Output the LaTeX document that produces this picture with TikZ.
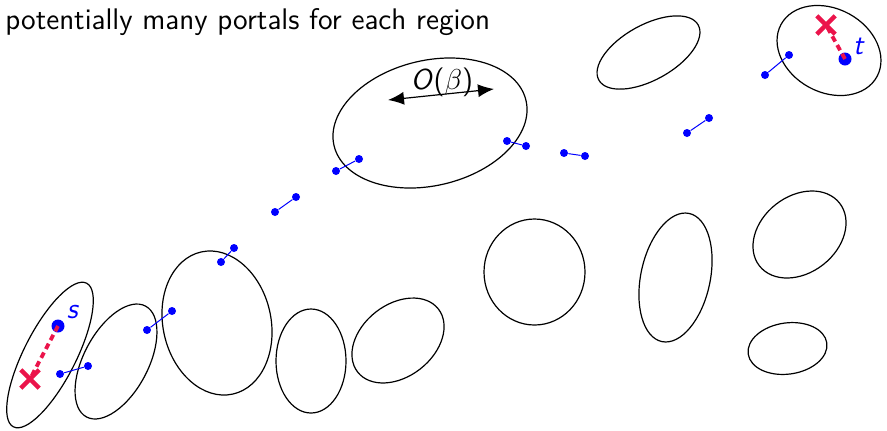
\documentclass[tikz,border=0pt]{standalone}
\usepackage{amsmath,amssymb}
\usepackage{xcolor}
\usepackage{tikz}
\usetikzlibrary{arrows.meta,positioning,shapes.misc}
\definecolor{crossred}{RGB}{235,20,75}

\begin{document}
\begin{tikzpicture}[x=0.5pt, y=-0.5pt, font=\Large\sffamily,
  region/.style={black, line width=0.6pt},
  portal/.style={circle, fill=blue, inner sep=0pt, minimum size=4pt},
  link/.style={blue, line width=0.5pt},
  term/.style={circle, fill=blue, inner sep=0pt, minimum size=6.5pt},
  miss/.style={cross out, draw=crossred, line width=2.2pt, inner sep=0pt, minimum size=7pt},
  jump/.style={crossred, line width=1.9pt, dash pattern=on 3pt off 2pt}]
  \useasboundingbox (0,0) rectangle (887,430);
  % title
  \node[anchor=base west, inner sep=0pt, font=\fontsize{14.9}{18}\selectfont\sffamily] (title) at (5,29) {potentially many portals for each region};
  % regions (lower chain)
  \draw[region, rotate around={63:(50,355)}] (50,355) ellipse [x radius=80.6, y radius=26];
  \draw[region, rotate around={62:(116,361.5)}] (116,361.5) ellipse [x radius=62.8, y radius=32.2];
  \draw[region, rotate around={12.5:(217,323)}] (217,323) ellipse [x radius=54, y radius=72.8];
  \draw[region] (311,361) ellipse [x radius=35, y radius=52];
  \draw[region, rotate around={38:(398,340.5)}] (398,340.5) ellipse [x radius=51.2, y radius=36.1];
  \draw[region] (534.5,272) ellipse [x radius=50.5, y radius=53];
  \draw[region, rotate around={78:(675.5,277.5)}] (675.5,277.5) ellipse [x radius=65.5, y radius=34.7];
  \draw[region, rotate around={38:(799.5,234.5)}] (799.5,234.5) ellipse [x radius=50.9, y radius=38.3];
  \draw[region, rotate around={8:(787.5,348.5)}] (787.5,348.5) ellipse [x radius=39.7, y radius=25.6];
  % regions (top)
  \draw[region, rotate around={29:(648.5,52.5)}] (648.5,52.5) ellipse [x radius=56.8, y radius=27.6];
  \draw[region, rotate around={-28.5:(829,50.5)}] (829,50.5) ellipse [x radius=54.6, y radius=41.8];
  \draw[region, rotate around={13.3:(430,123)}] (430,123) ellipse [x radius=98.6, y radius=62.6];
  % portals
  \node[portal] (p1a) at (60,374) {};
  \node[portal] (p1b) at (88,366) {};
  \node[portal] (p2a) at (147,330) {};
  \node[portal] (p2b) at (172,311) {};
  \node[portal] (p3a) at (221,262) {};
  \node[portal] (p3b) at (234,248) {};
  \node[portal] (p4a) at (275,212) {};
  \node[portal] (p4b) at (296,197) {};
  \node[portal] (p5a) at (336,171) {};
  \node[portal] (p5b) at (359,159) {};
  \node[portal] (p6a) at (507,141) {};
  \node[portal] (p6b) at (526,146) {};
  \node[portal] (p7a) at (564,153) {};
  \node[portal] (p7b) at (585,156) {};
  \node[portal] (p8a) at (687,133) {};
  \node[portal] (p8b) at (709,118) {};
  \node[portal] (p9a) at (765,75) {};
  \node[portal] (p9b) at (789,55) {};
  \draw[link] (p1a) -- (p1b);
  \draw[link] (p2a) -- (p2b);
  \draw[link] (p3a) -- (p3b);
  \draw[link] (p4a) -- (p4b);
  \draw[link] (p5a) -- (p5b);
  \draw[link] (p6a) -- (p6b);
  \draw[link] (p7a) -- (p7b);
  \draw[link] (p8a) -- (p8b);
  \draw[link] (p9a) -- (p9b);
  % source and target with their misses
  \node[term] (s) at (58,326) {};
  \node[miss] (xs) at (30,379) {};
  \draw[jump] (s.center) -- (xs.center);
  \node[blue, inner sep=0pt] (sl) at (73,312) {\textit{s}};
  \node[term] (t) at (845,59) {};
  \node[miss] (xt) at (826,25) {};
  \draw[jump] (t.center) -- (xt.center);
  \node[blue, inner sep=0pt] (tl) at (859,46) {\textit{t}};
  % width of a region
  \coordinate (wl) at (388,100);
  \coordinate (wr) at (494,89);
  \draw[line width=0.6pt, {Latex[length=8pt,width=6.5pt]}-{Latex[length=8pt,width=6.5pt]}] (wl) -- (wr);
  \node[inner sep=0pt] (wlab) at (442,82) {\textit{O}($\beta$)};
\end{tikzpicture}
\end{document}
